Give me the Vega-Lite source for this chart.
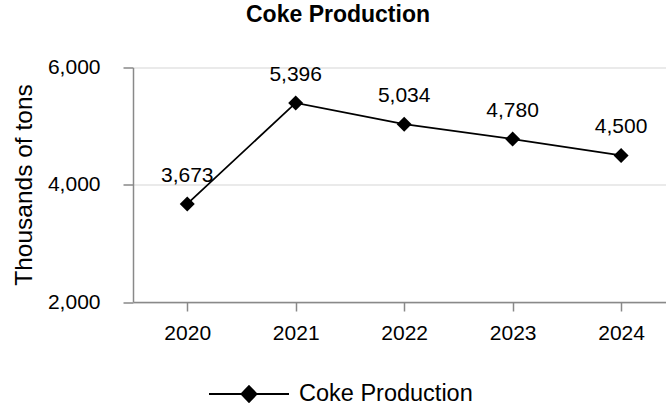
{
  "$schema": "https://vega.github.io/schema/vega-lite/v6.json",
  "autosize": "none",
  "width": 533,
  "height": 234.5,
  "padding": {"left": 133, "top": 67.5, "right": 0, "bottom": 103},
  "background": "white",
  "config": {
    "font": "Liberation Sans",
    "view": {"stroke": null}
  },
  "title": {
    "text": "Coke Production",
    "font": "Liberation Sans",
    "fontSize": 23,
    "fontWeight": "bold",
    "color": "black",
    "anchor": "middle",
    "frame": "group",
    "baseline": "alphabetic",
    "offset": 11.5,
    "dx": -61.5
  },
  "data": {
    "values": [
      {"year": 2020, "value": 3673, "series": "Coke Production"},
      {"year": 2021, "value": 5396, "series": "Coke Production"},
      {"year": 2022, "value": 5034, "series": "Coke Production"},
      {"year": 2023, "value": 4780, "series": "Coke Production"},
      {"year": 2024, "value": 4500, "series": "Coke Production"}
    ]
  },
  "encoding": {
    "x": {
      "field": "year",
      "type": "quantitative",
      "scale": {"domain": [2019.5, 2024.414], "nice": false, "zero": false},
      "axis": {
        "title": null,
        "values": [2020, 2021, 2022, 2023, 2024],
        "format": "d",
        "grid": false,
        "domainColor": "#898989",
        "domainWidth": 1.5,
        "tickColor": "#898989",
        "tickWidth": 1.5,
        "tickSize": 9,
        "labelFontSize": 21,
        "labelColor": "black",
        "labelPadding": 11,
        "labelFont": "Liberation Sans"
      }
    },
    "y": {
      "field": "value",
      "type": "quantitative",
      "scale": {"domain": [2000, 6000], "nice": false, "zero": false},
      "axis": {
        "title": "Thousands of tons",
        "titleFont": "Liberation Sans",
        "titleFontSize": 24.5,
        "titleFontWeight": "normal",
        "titleColor": "black",
        "titleX": -109,
        "titleY": 117,
        "titleBaseline": "middle",
        "titleAlign": "center",
        "titleAngle": -90,
        "values": [2000, 4000, 6000],
        "format": ",d",
        "grid": true,
        "gridColor": "#e3e3e3",
        "gridWidth": 1.5,
        "domainColor": "#898989",
        "domainWidth": 1.5,
        "tickColor": "#898989",
        "tickWidth": 1.5,
        "tickSize": 10,
        "labelFontSize": 21,
        "labelColor": "black",
        "labelPadding": 23,
        "labelFont": "Liberation Sans"
      }
    }
  },
  "layer": [
    {
      "mark": {"type": "line", "strokeWidth": 1.8},
      "encoding": {
        "color": {
          "field": "series",
          "type": "nominal",
          "scale": {"range": ["black"]},
          "legend": {
            "title": null,
            "orient": "none",
            "legendX": 75,
            "legendY": 285.5,
            "padding": 0,
            "symbolType": "M-1,0H1M0,-0.2L0.19,0L0,0.2L-0.19,0Z",
            "symbolSize": 6400,
            "symbolStrokeWidth": 1.8,
            "symbolFillColor": "black",
            "symbolStrokeColor": "black",
            "labelFontSize": 23.5,
            "labelFont": "Liberation Sans",
            "labelColor": "black",
            "labelOffset": 9,
            "labelLimit": 400,
            "labelBaseline": "middle",
            "encode": {
              "symbols": {
                "update": {
                  "fill": {"value": "black"},
                  "stroke": {"value": "black"},
                  "strokeWidth": {"value": 1.8},
                  "opacity": {"value": 1}
                }
              }
            }
          }
        }
      }
    },
    {
      "mark": {"type": "point", "shape": "diamond", "filled": true, "size": 225, "color": "black", "opacity": 1}
    },
    {
      "mark": {"type": "text", "baseline": "alphabetic", "dy": -22, "fontSize": 21, "font": "Liberation Sans", "color": "black"},
      "encoding": {
        "text": {"field": "value", "type": "quantitative", "format": ","}
      }
    }
  ]
}
